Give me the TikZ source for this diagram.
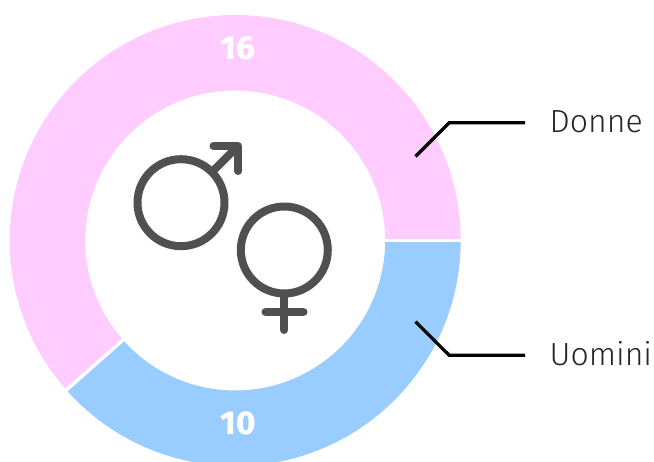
\documentclass[tikz,border=0pt]{standalone}
\usepackage{fontspec}
\setmainfont{Fira Sans Light}
\newfontfamily\numfont{Fira Sans}[BoldFont={Fira Sans ExtraBold}]
\definecolor{pinkseg}{HTML}{FFCCFF}
\definecolor{blueseg}{HTML}{99CCFF}
\definecolor{iconcol}{HTML}{505050}
\tikzset{
  divider/.style={draw=white,line width=3.5pt},
  icon/.style={draw=iconcol,line width=8pt,line cap=round,line join=round},
  leader/.style={draw=black,line width=3.2pt},
  lab/.style={text=black!85,font=\fontsize{32}{34}\selectfont,anchor=base west,inner sep=0pt},
  val/.style={text=white,font=\numfont\bfseries\fontsize{33}{35}\selectfont,anchor=center,inner sep=0pt}
}
\begin{document}
\begin{tikzpicture}[x=1pt,y=-1pt]
\useasboundingbox (0,0) rectangle (654,462);
\begin{scope}
\clip (0,0) rectangle (654,462);
\coordinate (c) at (235.2,240.5);
\fill[pinkseg] (c) ++(0:225.5) arc[start angle=0,end angle=-221.54,radius=225.5]
  -- ++(-221.54+180:75.5) arc[start angle=-221.54,end angle=0,radius=150] -- cycle;
\fill[blueseg] (c) ++(0:225.5) arc[start angle=0,end angle=138.46,radius=225.5]
  -- ++(138.46+180:75.5) arc[start angle=138.46,end angle=0,radius=150] -- cycle;
\draw[divider] (c) ++(0:148) -- ++(0:79);
\draw[divider] (c) ++(138.46:148) -- ++(138.46:79);
\end{scope}
\node[val] (v16) at (238,48.5) {16};
\node[val] (v10) at (238,423.5) {10};
% male
\draw[icon] (181,202.7) circle[radius=43.5];
\draw[icon,line cap=butt] (213,171) -- (236,148);
\draw[icon] (213.5,146) -- (238.3,146) -- (238.3,171);
% female
\draw[icon] (284.3,250) circle[radius=43.5];
\draw[icon] (284.3,294) -- (284.3,330);
\draw[icon] (265.5,312) -- (303.5,312);
% leaders
\coordinate (d0) at (415.5,156.5);
\coordinate (d1) at (449.3,122.7);
\coordinate (d2) at (525,122.7);
\coordinate (u0) at (415.5,321.7);
\coordinate (u1) at (449.3,355.3);
\coordinate (u2) at (525,355.3);
\draw[leader] (d0) -- (d1) -- (d2);
\draw[leader] (u0) -- (u1) -- (u2);
\node[lab] (donne) at (549.5,132.5) {Donne};
\node[lab] (uomini) at (549.5,365.5) {Uomini};
\end{tikzpicture}
\end{document}
